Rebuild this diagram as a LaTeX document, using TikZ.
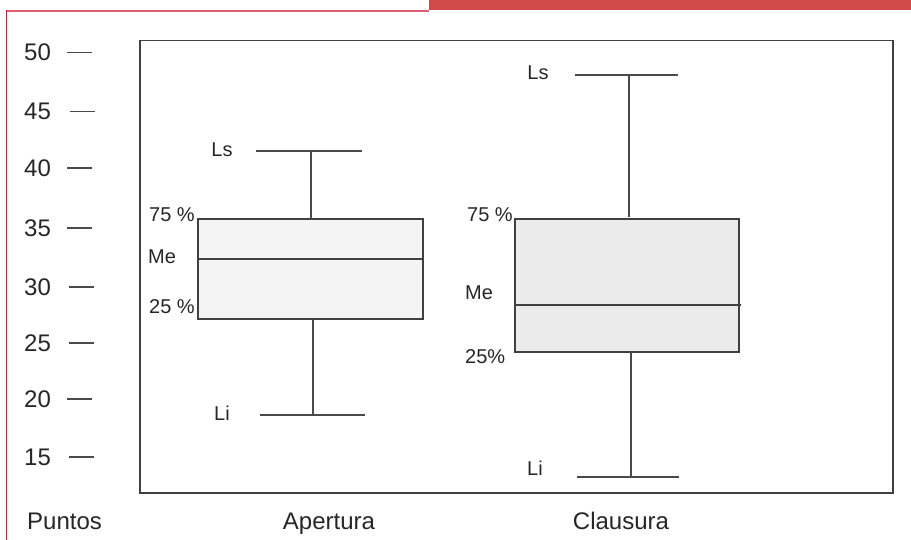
\documentclass[tikz,border=0pt]{standalone}
\usepackage{fontspec}
\setmainfont{Liberation Sans}
\definecolor{txt}{HTML}{262626}
\definecolor{ln}{HTML}{4A4A4A}
\definecolor{frm}{HTML}{404040}
\definecolor{barred}{HTML}{D04A4A}
\definecolor{topred}{HTML}{E06073}
\definecolor{leftred}{HTML}{C8203A}
\definecolor{boxA}{HTML}{F4F4F4}
\definecolor{boxB}{HTML}{EBEBEB}
\begin{document}
\begin{tikzpicture}[x=1pt,y=-1pt,
  axlab/.style={font=\fontsize{24}{28}\selectfont,text=txt,inner sep=0pt},
  smlab/.style={font=\fontsize{20}{24}\selectfont,text=txt,inner sep=0pt},
  tickln/.style={draw=ln,line width=1.1pt},
  whisk/.style={draw=ln,line width=2pt},
  boxst/.style={draw=frm,line width=1.5pt},
  frame/.style={draw=frm,line width=1.5pt}]
\useasboundingbox (0,0) rectangle (911,540);
% red decorations
\fill[barred] (429,0) rectangle (911,10.5);
\draw[topred,line width=2pt] (6,11) -- (429,11);
\draw[leftred,line width=1.6pt] (6.5,10) -- (6.5,540);
% plot frame
\draw[frame] (140,40.5) rectangle (893,493);
% y axis labels and ticks
\foreach \v/\y/\a/\b in {50/52.5/67/92,45/111.5/70/95,40/168/67/92,35/228/67/92,30/287/69/94,25/343/69/94,20/399/67/92,15/457/69/94}{
  \node[axlab,anchor=west] (y\v) at (24,\y) {\v};
  \coordinate (t\v a) at (\a,\y);
  \coordinate (t\v b) at (\b,\y);
  \draw[tickln] (t\v a) -- (t\v b);
}
\node[axlab,anchor=base west] (puntos) at (27,529) {Puntos};
\node[axlab,anchor=base] (apertura) at (329,529.5) {Apertura};
\node[axlab,anchor=base] (clausura) at (621,529.5) {Clausura};
% Box 1 (Apertura)
\coordinate (A1) at (198,219);
\coordinate (A2) at (423,319);
\filldraw[boxst,fill=boxA] (A1) rectangle (A2);
\coordinate (AmL) at (198,259); \coordinate (AmR) at (423,259);
\draw[draw=frm,line width=1.3pt] (AmL) -- (AmR);
\coordinate (AuT) at (311,151); \coordinate (AuB) at (311,219);
\coordinate (AcL) at (256,151); \coordinate (AcR) at (362,151);
\draw[whisk] (AuT) -- (AuB);
\draw[whisk] (AcL) -- (AcR);
\coordinate (AlT) at (313,319); \coordinate (AlB) at (313,415);
\coordinate (AdL) at (260,415); \coordinate (AdR) at (365,415);
\draw[whisk] (AlT) -- (AlB);
\draw[whisk] (AdL) -- (AdR);
\node[smlab] (Als) at (222,150) {Ls};
\node[smlab,anchor=east] (A75) at (195,215) {75 \%};
\node[smlab,anchor=west] (Ame) at (148,257) {Me};
\node[smlab,anchor=east] (A25) at (195,307) {25 \%};
\node[smlab] (Ali) at (222,413) {Li};
% Box 2 (Clausura)
\coordinate (B1) at (515,219);
\coordinate (B2) at (739,352);
\filldraw[boxst,fill=boxB] (B1) rectangle (B2);
\coordinate (BmL) at (515,305); \coordinate (BmR) at (741,305);
\draw[draw=frm,line width=1.3pt] (BmL) -- (BmR);
\coordinate (BuT) at (629,75); \coordinate (BuB) at (629,217);
\coordinate (BcL) at (575,75); \coordinate (BcR) at (678,75);
\draw[whisk] (BuT) -- (BuB);
\draw[whisk] (BcL) -- (BcR);
\coordinate (BlT) at (631,352); \coordinate (BlB) at (631,477);
\coordinate (BdL) at (577,477); \coordinate (BdR) at (679,477);
\draw[whisk] (BlT) -- (BlB);
\draw[whisk] (BdL) -- (BdR);
\node[smlab] (Bls) at (538,73) {Ls};
\node[smlab,anchor=east] (B75) at (513,215) {75 \%};
\node[smlab,anchor=west] (Bme) at (465,293) {Me};
\node[smlab,anchor=west] (B25) at (465,357) {25\%};
\node[smlab] (Bli) at (535,468) {Li};
\end{tikzpicture}
\end{document}
